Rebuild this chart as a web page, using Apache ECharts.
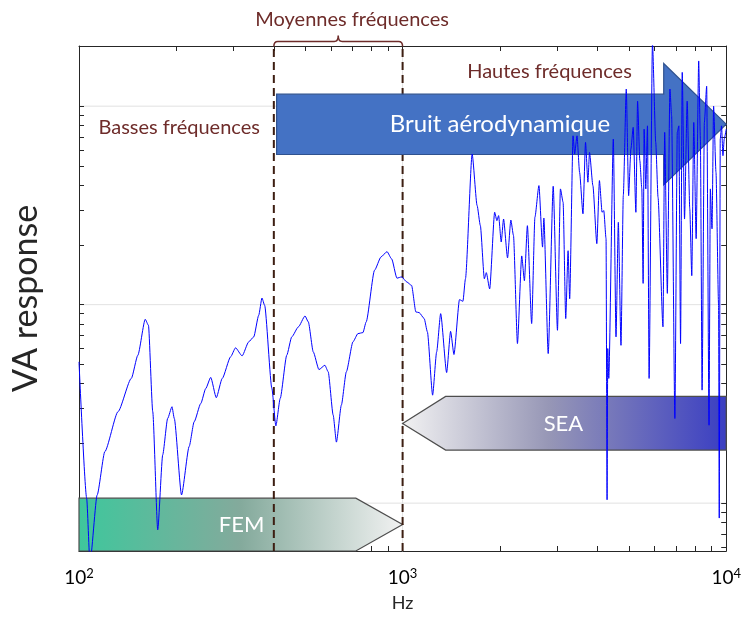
<!DOCTYPE html>
<html>
<head>
<meta charset="utf-8">
<title>VA response</title>
<script src="https://cdn.jsdelivr.net/npm/echarts@6/dist/echarts.min.js"></script>
<style>
  html, body { margin: 0; padding: 0; background: #fff; }
  #chart { width: 744px; height: 617px; }
</style>
</head>
<body>
<div id="chart"></div>
<script>
// courbe de réponse (Hz / réponse VA)
const freq = [
  100, 105.6, 108.1, 113.8, 120.2, 132.0, 145.1, 152.0, 160.2, 163.9,
  169.0, 175.1, 181.4, 187.9, 193.8, 197.0, 207.4, 219.0, 226.9, 237.9,
  246.4, 255.3, 265.6, 277.1, 294.1, 304.6, 319.2, 334.6, 346.7, 359.2,
  367.6, 374.7, 394.5, 405.8, 418.6, 438.5, 454.4, 476.4, 499.4, 511.2,
  529.6, 551.4, 575.3, 588.9, 610.1, 624.4, 646.8, 670.1, 702.5, 727.8,
  754.0, 771.7, 818.9, 857.8, 894.9, 925.1, 960.4, 992.9, 1031, 1066,
  1099, 1125, 1166, 1193, 1238, 1274, 1311, 1368, 1407, 1441,
  1499, 1536, 1564, 1640, 1699, 1739, 1789, 1814, 1858, 1925,
  1956, 1980, 2017, 2051, 2110, 2160, 2201, 2264, 2334, 2379,
  2430, 2505, 2564, 2638, 2707, 2732, 2818, 2920, 3010, 3074,
  3133, 3192, 3246, 3283, 3363, 3401, 3459, 3523, 3609, 3675,
  3738, 3781, 3873, 3983, 4057, 4135, 4185, 4253, 4284, 4305,
  4336, 4479, 4565, 4641, 4730, 4808, 4911, 4994, 5075, 5159,
  5259, 5322, 5409, 5486, 5537, 5576, 5643, 5711, 5777, 5917,
  6056, 6156, 6377, 6454, 6578, 6700, 6781, 6940, 7060, 7140,
  7226, 7313, 7433, 7575, 7716, 7827, 7938, 8074, 8222, 8321,
  8423, 8561, 8702, 8850, 8932, 9040, 9142, 9299, 9472, 9517,
  9585, 9674, 9770, 9860, 10000
]
const response = [
  5.15, 1.06, 0.5, 1.10, 1.82, 2.89, 4.25, 5.56, 8.44, 7.87,
  2.89, 0.734, 1.75, 2.67, 3.06, 2.67, 1.10, 1.93, 2.57, 3.18,
  3.78, 4.30, 3.40, 4.25, 5.46, 6.06, 5.52, 6.50, 6.88, 8.84,
  10.8, 9.92, 3.78, 2.45, 3.37, 5.56, 6.88, 7.73, 8.77, 8.19,
  5.78, 4.71, 4.95, 4.59, 2.78, 2.03, 3.12, 4.59, 6.50, 7.15,
  7.23, 8.19, 14.9, 17.4, 18.5, 17.0, 13.6, 13.8, 13.0, 12.5,
  9.19, 9.12, 8.51, 7.29, 3.50, 5.78, 9.01, 4.55, 7.34, 5.61,
  10.6, 10.4, 13.5, 57.4, 31.6, 25.0, 13.5, 14.5, 12.0, 29.2,
  26.5, 28.1, 20.7, 27.0, 17.2, 26.7, 22.3, 6.37, 17.6, 13.2,
  25.0, 8.03, 27.6, 39.8, 19.5, 27.3, 5.67, 39.5, 7.43, 38.3,
  32.8, 8.51, 18.7, 10.7, 70.9, 57.4, 70.9, 46.4, 28.7, 65.7,
  41.4, 58.5, 39.8, 20.3, 42.2, 29.2, 29.8, 21.5, 1.04, 6.01,
  4.25, 68.3, 6.88, 26.0, 6.24, 35.4, 122, 35.4, 60.8, 78.2,
  29.2, 106, 53.1, 38.3, 12.8, 76.6, 38.3, 79.6, 4.25, 210,
  65.7, 34.8, 7.73, 73.8, 11.4, 122, 89.4, 2.67, 73.8, 79.6,
  6.37, 148, 27.0, 106, 30.4, 14.0, 82.8, 21.5, 169, 68.3,
  3.71, 82.8, 126, 2.47, 38.3, 24.1, 100, 46.4, 9.92, 0.841,
  68.3, 79.6, 56.3, 68.3, 76.6
]

// graduations
const xTicks = [100, 200, 300, 400, 500, 600, 700, 800, 900,
  1000, 2000, 3000, 4000, 5000, 6000, 7000, 8000, 9000, 10000]
const yTicks = [0.6, 0.7, 0.8, 0.9, 1, 2, 3, 4, 5, 6, 7, 8, 9,
  10, 20, 30, 40, 50, 60, 70, 80, 90, 100, 200]
const xGrid = [1000]
const yGrid = [1, 10, 100]
const xMin = 100
const xMax = 10000
const yMin = 0.574
const yMax = 201

// flèches (FEM, SEA, bruit aérodynamique), en Hz / unités de réponse
const arrowNames = ['FEM', 'SEA', 'Bruit aérodynamique']
const arrowTail = [100, 10000, 408]
const arrowShoulder = [717, 1358, 6410]
const arrowTip = [1000, 1000, 10000]
const arrowBodyTop = [1.06, 3.45, 115]
const arrowBodyBottom = [0.574, 1.85, 57.1]
const arrowHeadTop = [1.06, 3.45, 164]
const arrowHeadBottom = [0.574, 1.85, 40.1]
const arrowTipY = [0.78, 2.52, 81.2]
const arrowLabelX = [318, 3140, 1998]

// domaines de fréquence
const bandEdges = [400, 1000]
const regionNames = ['Basses fréquences', 'Moyennes fréquences', 'Hautes fréquences']
const regionX = [204, 698, 2844]
const regionY = [78.4, 274, 150]

const FONT = 'Lato, "Open Sans", sans-serif'
const axisColor = '#262626'
const textRed = '#6e2c2a'

const arrowFill = [
  new echarts.graphic.LinearGradient(0, 0, 1, 0, [
    { offset: 0, color: '#3ec79c' },
    { offset: 0.5, color: '#84aa9c' },
    { offset: 1, color: '#f2f2f2' }
  ]),
  new echarts.graphic.LinearGradient(0, 0, 1, 0, [
    { offset: 0, color: '#f2f2f2' },
    { offset: 0.45, color: '#9797b6' },
    { offset: 1, color: '#3a3ec2' }
  ]),
  '#4472c4'
]
const arrowStroke = ['#4d4d4d', '#4d4d4d', '#2f528f']
const arrowFont = ['22px ', '22px ', '24px ']

const chart = echarts.init(document.getElementById('chart'))

function renderArrow(params, api) {
  const i = api.value(2)
  const p = (x, y) => api.coord([x, y])
  const pts = [
    p(arrowTail[i], arrowBodyTop[i]),
    p(arrowShoulder[i], arrowBodyTop[i]),
    p(arrowShoulder[i], arrowHeadTop[i]),
    p(arrowTip[i], arrowTipY[i]),
    p(arrowShoulder[i], arrowHeadBottom[i]),
    p(arrowShoulder[i], arrowBodyBottom[i]),
    p(arrowTail[i], arrowBodyBottom[i])
  ]
  const lp = p(arrowLabelX[i], arrowTipY[i])
  return {
    type: 'group',
    children: [
      {
        type: 'polygon',
        shape: { points: pts },
        style: { fill: arrowFill[i], stroke: arrowStroke[i], lineWidth: 1.2 }
      },
      {
        type: 'text',
        x: lp[0],
        y: lp[1],
        style: {
          text: arrowNames[i],
          fill: '#fff',
          font: arrowFont[i] + FONT,
          align: 'center',
          verticalAlign: 'middle'
        }
      }
    ]
  }
}

// quadrillage principal (décades seulement)
function renderGrid(params, api) {
  const dim = api.value(0)
  const v = api.value(1)
  const a = dim === 0 ? api.coord([v, yMin]) : api.coord([xMin, v])
  const b = dim === 0 ? api.coord([v, yMax]) : api.coord([xMax, v])
  return {
    type: 'line',
    shape: { x1: a[0], y1: a[1], x2: b[0], y2: b[1] },
    style: { stroke: '#e2e2e2', lineWidth: 1 }
  }
}

function renderBand(params, api) {
  const x = api.value(0)
  const bottom = api.coord([x, yMin])
  const top = api.coord([x, yMax])
  const children = [
    {
      type: 'line',
      shape: { x1: bottom[0], y1: bottom[1], x2: top[0], y2: top[1] },
      style: { stroke: '#3d1e12', lineWidth: 2, lineDash: [8, 5] }
    }
  ]
  // accolade au-dessus de la zone moyennes fréquences
  if (params.dataIndex === 0) {
    const xa = top[0]
    const xb = api.coord([bandEdges[1], yMax])[0]
    const xm = (xa + xb) / 2
    const yb = top[1] - 4.5
    const y0 = top[1] + 0.5
    const d = 'M' + xa + ' ' + y0 + ' Q' + xa + ' ' + yb + ' ' + (xa + 4) + ' ' + yb +
      ' L' + (xm - 4) + ' ' + yb + ' Q' + xm + ' ' + yb + ' ' + xm + ' ' + (yb - 6) +
      ' Q' + xm + ' ' + yb + ' ' + (xm + 4) + ' ' + yb +
      ' L' + (xb - 4) + ' ' + yb + ' Q' + xb + ' ' + yb + ' ' + xb + ' ' + y0
    children.push({
      type: 'path',
      shape: { pathData: d },
      style: { fill: null, stroke: textRed, lineWidth: 1.5 }
    })
  }
  return { type: 'group', children }
}

function renderRegion(params, api) {
  const i = params.dataIndex
  const pos = api.coord([regionX[i], regionY[i]])
  return {
    type: 'text',
    x: pos[0],
    y: pos[1],
    style: {
      text: regionNames[i],
      fill: textRed,
      font: '20px ' + FONT,
      align: 'center',
      verticalAlign: 'middle'
    }
  }
}

const option = {
  animation: false,
  backgroundColor: '#fff',
  grid: { left: 79, right: 13, top: 46, bottom: 64 },
  xAxis: [
    {
      type: 'log',
      min: xMin,
      max: xMax,
      name: 'Hz',
      nameLocation: 'middle',
      nameGap: 43,
      nameTextStyle: { fontSize: 18, color: axisColor, fontFamily: FONT },
      axisLine: { lineStyle: { color: axisColor, width: 1 } },
      axisTick: { inside: true, length: 5, customValues: xTicks, lineStyle: { color: axisColor } },
      axisLabel: {
        color: '#000',
        fontSize: 19,
        fontFamily: FONT,
        margin: 16,
        showMinLabel: true,
        showMaxLabel: true,
        formatter: (v) => '10{sup|' + Math.round(Math.log10(v)) + '}',
        rich: { sup: { fontSize: 13, fontFamily: FONT, color: '#000', padding: [0, 0, 9, 0] } }
      },
      splitLine: { show: false }
    },
    {
      type: 'log',
      position: 'top',
      min: xMin,
      max: xMax,
      axisLine: { lineStyle: { color: axisColor, width: 1 } },
      axisTick: { inside: true, length: 5, customValues: xTicks, lineStyle: { color: axisColor } },
      axisLabel: { show: false },
      splitLine: { show: false }
    }
  ],
  yAxis: [
    {
      type: 'log',
      min: yMin,
      max: yMax,
      name: 'VA response',
      nameLocation: 'middle',
      nameGap: 36,
      nameTextStyle: { fontSize: 34, color: axisColor, fontFamily: FONT },
      axisLine: { show: true, lineStyle: { color: axisColor, width: 1 } },
      axisTick: { inside: true, length: 5, customValues: yTicks, lineStyle: { color: axisColor } },
      axisLabel: { show: false },
      splitLine: { show: false }
    },
    {
      type: 'log',
      position: 'right',
      min: yMin,
      max: yMax,
      axisLine: { show: true, lineStyle: { color: axisColor, width: 1 } },
      axisTick: { inside: true, length: 5, customValues: yTicks, lineStyle: { color: axisColor } },
      axisLabel: { show: false },
      splitLine: { show: false }
    }
  ],
  series: [
    {
      type: 'custom',
      z: 0,
      encode: { x: 1, y: 1 },
      data: xGrid.map((v) => [0, v]).concat(yGrid.map((v) => [1, v])),
      renderItem: renderGrid,
      silent: true
    },
    {
      // FEM + SEA, sous les pointillés
      type: 'custom',
      z: 1,
      encode: { x: 0, y: 1 },
      data: [0, 1].map((i) => [arrowTail[i], arrowTipY[i], i]),
      renderItem: renderArrow,
      silent: true
    },
    {
      type: 'custom',
      z: 2,
      clip: false,
      encode: { x: 0, y: 1 },
      data: bandEdges.map((x) => [x, yMax]),
      renderItem: renderBand,
      silent: true
    },
    {
      // bruit aérodynamique, au-dessus des pointillés
      type: 'custom',
      z: 3,
      encode: { x: 0, y: 1 },
      data: [[arrowTail[2], arrowTipY[2], 2]],
      renderItem: renderArrow,
      silent: true
    },
    {
      type: 'line',
      z: 4,
      data: freq.map((f, i) => [f, response[i]]),
      symbol: 'none',
      smooth: 0.2,
      smoothMonotone: 'x',
      clip: true,
      lineStyle: { color: '#0000ff', width: 1 },
      silent: true
    },
    {
      type: 'custom',
      z: 5,
      clip: false,
      encode: { x: 0, y: 1 },
      data: regionX.map((x, i) => [x, regionY[i]]),
      renderItem: renderRegion,
      silent: true
    }
  ]
}

chart.setOption(option)
</script>
</body>
</html>
